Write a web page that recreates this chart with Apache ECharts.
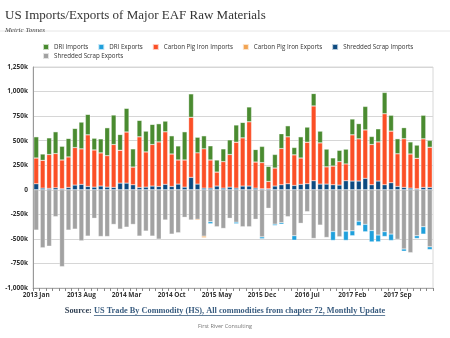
<!DOCTYPE html>
<html>
<head>
<meta charset="utf-8">
<script src="https://cdn.jsdelivr.net/npm/echarts@6/dist/echarts.min.js"></script>
<style>
  html, body { margin: 0; padding: 0; background: #fff; }
  #chart { width: 450px; height: 338px; }
</style>
</head>
<body>
<div id="chart"></div>
<script>
// Monthly categories, 2013 Jan – 2018 Feb
const months = [
  '2013 Jan','2013 Feb','2013 Mar','2013 Apr','2013 May','2013 Jun','2013 Jul','2013 Aug','2013 Sep','2013 Oct','2013 Nov','2013 Dec',
  '2014 Jan','2014 Feb','2014 Mar','2014 Apr','2014 May','2014 Jun','2014 Jul','2014 Aug','2014 Sep','2014 Oct','2014 Nov','2014 Dec',
  '2015 Jan','2015 Feb','2015 Mar','2015 Apr','2015 May','2015 Jun','2015 Jul','2015 Aug','2015 Sep','2015 Oct','2015 Nov','2015 Dec',
  '2016 Jan','2016 Feb','2016 Mar','2016 Apr','2016 May','2016 Jun','2016 Jul','2016 Aug','2016 Sep','2016 Oct','2016 Nov','2016 Dec',
  '2017 Jan','2017 Feb','2017 Mar','2017 Apr','2017 May','2017 Jun','2017 Jul','2017 Aug','2017 Sep','2017 Oct','2017 Nov','2017 Dec',
  '2018 Jan','2018 Feb'
];

// Thousand metric tonnes; exports are negative
const shreddedScrapImports = [
  61,17,14,20,10,24,48,55,34,27,38,27,24,68,68,51,24,27,38,34,55,34,58,27,
  126,58,17,17,38,17,27,17,38,38,17,10,10,38,51,61,44,55,61,92,58,58,51,48,
  92,89,89,116,51,89,51,72,34,24,17,10,24,24
];
const carbonPigIronImports = [
  263,283,345,349,294,311,382,362,526,379,338,321,437,335,521,181,516,359,423,454,536,331,246,277,
  612,318,400,287,143,270,332,468,491,655,266,267,75,184,369,479,312,269,424,762,420,176,191,239,
  171,471,430,494,410,399,724,526,333,496,348,311,495,410
];
const driImports = [
  216,65,170,222,140,188,195,273,208,120,143,284,301,160,241,185,167,212,205,185,109,185,143,287,
  239,160,133,143,123,130,150,174,157,151,127,164,154,137,150,112,74,216,154,126,120,181,82,116,
  150,160,154,238,81,132,215,160,153,112,123,133,239,68
];
const shreddedScrapExports = [
  -410,-590,-574,-273,-782,-410,-400,-519,-471,-290,-475,-475,-352,-400,-380,-352,-471,-420,-471,-502,-307,-451,-437,-280,
  -307,-300,-472,-325,-376,-393,-290,-330,-376,-376,-300,-480,-188,-350,-335,-273,-468,-341,-222,-495,-359,-485,-425,-478,
  -417,-418,-320,-352,-415,-461,-427,-451,-503,-603,-640,-468,-376,-581
];
const driExports = [
  0,0,0,0,0,0,0,0,0,0,0,0,0,0,0,0,0,0,0,0,0,0,0,0,
  0,0,0,-20,0,0,0,-15,0,0,0,-18,0,-13,-15,0,-45,0,0,0,0,0,-90,0,
  -93,-49,-45,-75,-115,-68,-48,-65,0,-22,0,-27,-75,-27
];
const carbonPigIronExports = [
  0,0,0,0,0,0,0,0,0,0,0,0,0,0,0,0,0,0,0,0,0,0,0,0,
  0,-10,-15,0,0,0,0,0,0,0,0,0,0,0,0,0,0,0,0,0,0,0,0,0,
  -5,0,0,0,0,0,0,0,0,0,0,0,0,0
];

const legendRow1 = ['DRI Imports', 'DRI Exports', 'Carbon Pig Iron Imports', 'Carbon Pig Iron Exports', 'Shredded Scrap Imports'];
const legendRow2 = ['Shredded Scrap Exports'];

const colors = {
  'DRI Imports': '#4a8b30',
  'DRI Exports': '#1fa0dc',
  'Carbon Pig Iron Imports': '#fb4f26',
  'Carbon Pig Iron Exports': '#f2a453',
  'Shredded Scrap Imports': '#0d4a80',
  'Shredded Scrap Exports': '#a2a2a2'
};

// Stacking order: scrap closest to zero, DRI furthest out
const stackSeries = [
  ['Shredded Scrap Imports', shreddedScrapImports],
  ['Shredded Scrap Exports', shreddedScrapExports],
  ['Carbon Pig Iron Imports', carbonPigIronImports],
  ['Carbon Pig Iron Exports', carbonPigIronExports],
  ['DRI Imports', driImports],
  ['DRI Exports', driExports]
];

function fmtK(v) {
  if (v === 0) return '0';
  const s = Math.abs(v).toString().replace(/\B(?=(\d{3})+(?!\d))/g, ',');
  return (v < 0 ? '-' : '') + s + 'k';
}

const chart = echarts.init(document.getElementById('chart'), null, { renderer: 'canvas' });

// Footer source line with an underlined link part
const srcFont = 'bold 8.3px "Liberation Serif", "DejaVu Serif", serif';
const ctx = document.createElement('canvas').getContext('2d');
ctx.font = srcFont;
const srcLabel = 'Source: ';
const srcLink = 'US Trade By Commodity (HS), All commodities from chapter 72, Monthly Update';
const wLabel = ctx.measureText(srcLabel).width;
const wLink = ctx.measureText(srcLink).width;
const srcX = 225 - (wLabel + wLink) / 2;
const srcY = 311;

const legendBase = {
  itemWidth: 6, itemHeight: 6, itemGap: 9,
  icon: 'rect',
  padding: 0,
  textStyle: { fontFamily: '"Open Sans", sans-serif', fontSize: 6.2, color: '#333' }
};

const option = {
  animation: false,
  backgroundColor: '#fff',
  title: [
    {
      text: 'US Imports/Exports of Major EAF Raw Materials',
      left: 0, top: 4,
      textStyle: { fontFamily: '"Liberation Serif", serif', fontSize: 13, fontWeight: 'normal', color: '#333' }
    },
    {
      text: 'Metric Tonnes',
      left: 0, top: 22,
      textStyle: { fontFamily: '"Liberation Serif", serif', fontSize: 7, fontStyle: 'italic', fontWeight: 'normal', color: '#444' }
    },
    {
      text: 'First River Consulting',
      left: 'center', top: 318,
      textStyle: { fontFamily: '"Open Sans", sans-serif', fontSize: 5.5, fontWeight: 'normal', color: '#777' }
    }
  ],
  graphic: [
    { type: 'line', shape: { x1: 0, y1: 31, x2: 450, y2: 31 }, style: { stroke: '#e6e6e6', lineWidth: 1 } },
    { type: 'text', x: srcX, y: srcY, style: { text: srcLabel, font: srcFont, fill: '#2f3f52', textVerticalAlign: 'middle' } },
    { type: 'text', x: srcX + wLabel, y: srcY, style: { text: srcLink, font: srcFont, fill: '#3a5d80', textVerticalAlign: 'middle' } },
    { type: 'line', shape: { x1: srcX + wLabel, y1: srcY + 4.5, x2: srcX + wLabel + wLink, y2: srcY + 4.5 }, style: { stroke: '#3a5d80', lineWidth: 0.8 } }
  ],
  legend: [
    Object.assign({ data: legendRow1, left: 42, top: 43 }, legendBase),
    Object.assign({ data: legendRow2, left: 42, top: 52 }, legendBase)
  ],
  grid: {
    left: 33, right: 17, top: 67, bottom: 50,
    show: true, borderColor: '#d8d8d8', borderWidth: 1
  },
  xAxis: {
    type: 'category',
    data: months,
    position: 'bottom',
    axisLine: { onZero: false, lineStyle: { color: '#aaa' } },
    axisTick: { show: true, length: 3, interval: 0, lineStyle: { color: '#888' } },
    axisLabel: {
      interval: 6, margin: 4,
      fontFamily: '"Open Sans", sans-serif', fontSize: 6.5, fontWeight: 'bold', color: '#333'
    }
  },
  yAxis: {
    type: 'value',
    min: -1000, max: 1250, interval: 250,
    axisLine: { show: true, lineStyle: { color: '#999' } },
    axisTick: { show: false },
    splitLine: { lineStyle: { color: '#d6d6d6' } },
    axisLabel: {
      formatter: fmtK, margin: 5,
      fontFamily: '"Open Sans", sans-serif', fontSize: 6.5, fontWeight: 'bold', color: '#333'
    }
  },
  series: stackSeries.map(([name, values]) => ({
    name,
    type: 'bar',
    stack: 'trade',
    data: values,
    barCategoryGap: '26%',
    itemStyle: { color: colors[name], borderColor: 'rgba(255,255,255,0.7)', borderWidth: 0.4 }
  }))
};

chart.setOption(option);
</script>
</body>
</html>
